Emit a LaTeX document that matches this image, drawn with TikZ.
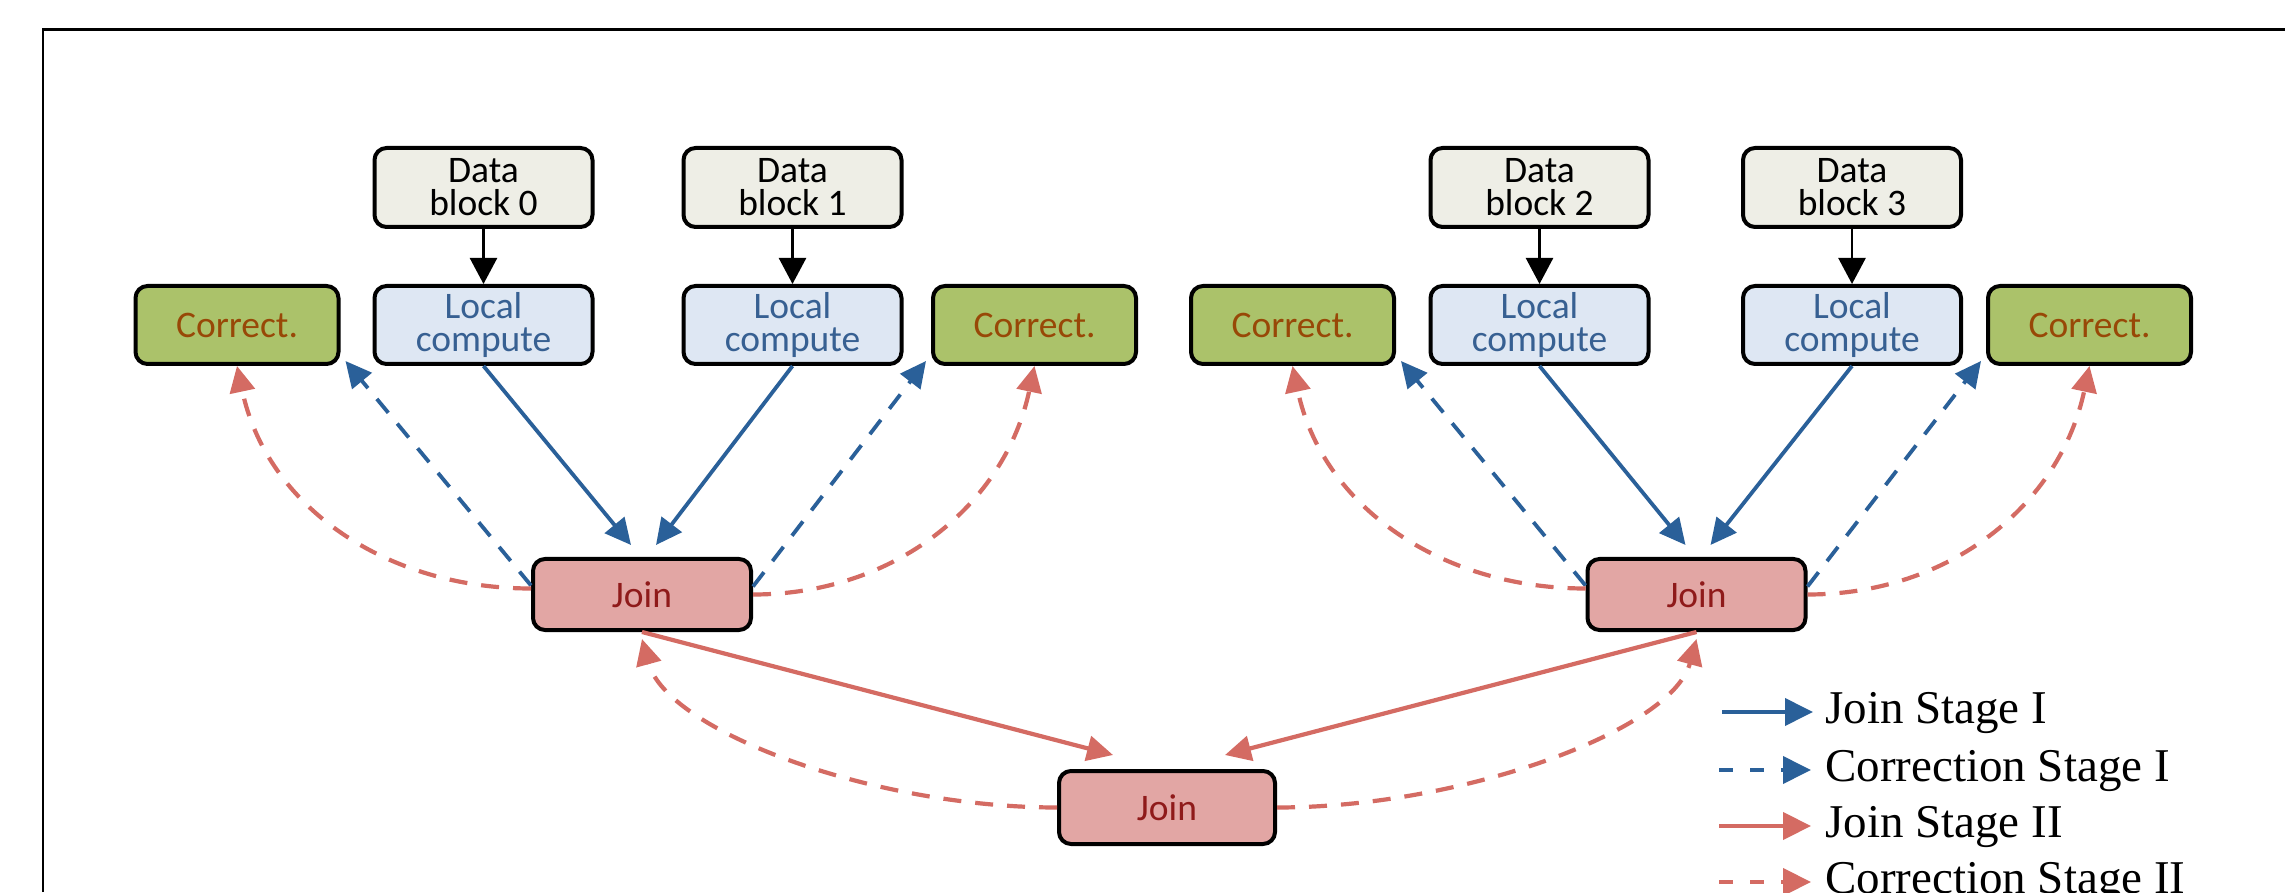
\documentclass[tikz,border=0pt]{standalone}
\usepackage{fontspec}
\setmainfont{Liberation Serif}
\newfontfamily\boxfont{Carlito}
\usetikzlibrary{arrows.meta,calc}

\definecolor{dbfill}{HTML}{EEEEE6}
\definecolor{corrfill}{HTML}{ABC26A}
\definecolor{corrtext}{HTML}{984807}
\definecolor{lcfill}{HTML}{DEE7F3}
\definecolor{lctext}{HTML}{376092}
\definecolor{joinfill}{HTML}{E2A6A4}
\definecolor{jointext}{HTML}{8F1A1A}
\definecolor{blueline}{HTML}{2A6099}
\definecolor{redline}{HTML}{D46B63}

\begin{document}
\begin{tikzpicture}[x=1pt,y=1pt,
  box/.style={draw=black, line width=4pt, rounded corners=12pt, inner sep=0pt, align=center,
    font=\boxfont\fontsize{37.5}{33}\selectfont, minimum width=218pt},
  datablk/.style={box, fill=dbfill, minimum height=79pt, text=black},
  corrblk/.style={box, fill=corrfill, minimum height=78pt, minimum width=203pt, text=corrtext},
  lcblk/.style={box, fill=lcfill, minimum height=78pt, text=lctext},
  joinblk/.style={box, fill=joinfill, minimum height=71pt, text=jointext},
  tipc/.style={-{Triangle[length=26pt,width=25pt]}},
  blk/.style={draw=black, line width=2.5pt, -{Triangle[length=26pt,width=27pt]}},
  bsolid/.style={draw=blueline, line width=3.8pt, tipc},
  bdash/.style={bsolid, dash pattern=on 18pt off 14pt},
  rsolid/.style={draw=redline, line width=4.2pt, tipc},
  rdash/.style={rsolid, dash pattern=on 18pt off 14pt},
  legtext/.style={anchor=base west, inner sep=0pt, font=\fontsize{47}{47}\selectfont},
]
\useasboundingbox (0,0) rectangle (2285,892);
\fill[white] (0,0) rectangle (2285,892);

% frame
\draw[line width=2.5pt] (43,0) -- (43,862.5) -- (2290,862.5);

% data blocks
\node[datablk] (db0) at (483.5,704.5) {Data\\block 0};
\node[datablk] (db1) at (792.5,704.5) {Data\\block 1};
\node[datablk] (db2) at (1539.5,704.5) {Data\\block 2};
\node[datablk] (db3) at (1852,704.5) {Data\\block 3};

% second row
\node[corrblk] (c0) at (237,567) {Correct.};
\node[lcblk] (lc0) at (483.5,567) {Local\\compute};
\node[lcblk] (lc1) at (792.5,567) {Local\\compute};
\node[corrblk] (c1) at (1034.5,567) {Correct.};
\node[corrblk] (c2) at (1292.5,567) {Correct.};
\node[lcblk] (lc2) at (1539.5,567) {Local\\compute};
\node[lcblk] (lc3) at (1852,567) {Local\\compute};
\node[corrblk] (c3) at (2089.5,567) {Correct.};

% joins
\node[joinblk] (j1) at (642,297.5) {Join};
\node[joinblk] (j2) at (1696.5,297.5) {Join};
\node[joinblk, minimum height=73pt, minimum width=216pt] (j3) at (1167,84.5) {Join};

% data -> local compute
\draw[blk] (db0) -- (lc0);
\draw[blk] (db1) -- (lc1);
\draw[blk] (db2) -- (lc2);
\draw[blk] (db3) -- (lc3);

% join stage I
\draw[bsolid] (lc0.south) -- ([xshift=-11pt,yshift=12pt]j1.north);
\draw[bsolid] (lc1.south) -- ([xshift=14pt,yshift=12pt]j1.north);
\draw[bsolid] (lc2.south) -- ([xshift=-11pt,yshift=12pt]j2.north);
\draw[bsolid] (lc3.south) -- ([xshift=14pt,yshift=12pt]j2.north);

% correction stage I
\draw[bdash] ([yshift=9pt]j1.west) -- ([xshift=5pt,yshift=5pt]c0.south east);
\draw[bdash] ([yshift=8pt]j1.east) -- ([xshift=-5pt,yshift=5pt]c1.south west);
\draw[bdash] ([yshift=9pt]j2.west) -- ([xshift=5pt,yshift=5pt]c2.south east);
\draw[bdash] ([yshift=8pt]j2.east) -- ([xshift=-5pt,yshift=5pt]c3.south west);

% correction curves to Correct.
\draw[rdash] ([yshift=6pt]j1.west) to[out=180,in=-78] (c0.south);
\draw[rdash] (j1.east) to[out=0,in=-102] (c1.south);
\draw[rdash] ([yshift=6pt]j2.west) to[out=180,in=-78] (c2.south);
\draw[rdash] (j2.east) to[out=0,in=-102] (c3.south);

% join stage II
\draw[rsolid] (j1.south) -- ([xshift=-54pt,yshift=14pt]j3.north);
\draw[rsolid] (j2.south) -- ([xshift=58pt,yshift=14pt]j3.north);

% correction stage II
\draw[rdash] (j3.west) .. controls ($(j3.west)+(-184,0)$) and ($(j1.south)+(25,-99)$) .. ([yshift=-7pt]j1.south);
\draw[rdash] (j3.east) .. controls ($(j3.east)+(184,0)$) and ($(j2.south)+(-25,-99)$) .. ([yshift=-7pt]j2.south);

% legend
\coordinate (a1) at (1722,180); \coordinate (b1) at (1813,180);
\coordinate (a2) at (1719,122); \coordinate (b2) at (1811,122);
\coordinate (a3) at (1719,66);  \coordinate (b3) at (1811,66);
\coordinate (a4) at (1719,10);  \coordinate (b4) at (1811,10);
\draw[bsolid,-{Triangle[length=28pt,width=27pt]}] (a1) -- (b1);
\draw[bdash,dash pattern=on 14pt off 17pt,-{Triangle[length=28pt,width=27pt]}] (a2) -- (b2);
\draw[rsolid,-{Triangle[length=28pt,width=27pt]}] (a3) -- (b3);
\draw[rdash,dash pattern=on 14pt off 17pt,-{Triangle[length=28pt,width=27pt]}] (a4) -- (b4);
\node[legtext] (t1) at (1825,169) {Join Stage I};
\node[legtext] (t2) at (1825,111) {Correction Stage I};
\node[legtext] (t3) at (1825,55) {Join Stage II};
\node[legtext] (t4) at (1825,-1) {Correction Stage II};
\end{tikzpicture}
\end{document}
